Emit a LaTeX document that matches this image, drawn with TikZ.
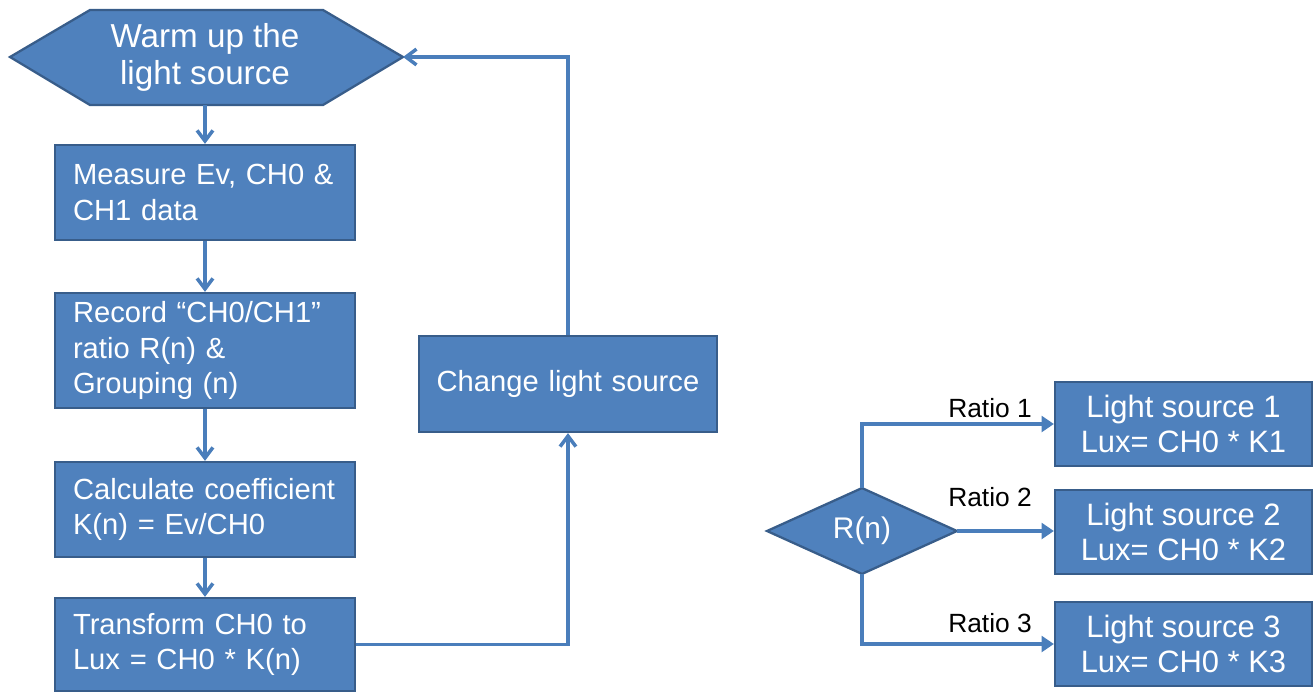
\documentclass[tikz,border=0pt]{standalone}
\usepackage{fontspec}
\setmainfont{Liberation Sans}
\usetikzlibrary{positioning}
\usetikzlibrary{calc}
\usetikzlibrary{shapes.geometric, arrows.meta}
\definecolor{boxblue}{HTML}{4F81BD}
\definecolor{boxedge}{HTML}{385D8A}
\definecolor{lineblue}{HTML}{4A7EBB}

\begin{document}
\begin{tikzpicture}[x=0.02cm, y=-0.02cm]
    \useasboundingbox (0,0) rectangle (1316,693);
    % styles for the boxes and the connectors
    \tikzstyle{proc} = [draw=boxedge, fill=boxblue, line width=1.3pt, rectangle, text width=5.5cm, inner xsep=0.25cm, inner ysep=0pt, align=left, text=white, font=\fontsize{16.6}{20}\selectfont]
    \tikzstyle{result} = [draw=boxedge, fill=boxblue, line width=1.3pt, rectangle, minimum width=5.14cm, minimum height=1.68cm, inner sep=0pt, align=center, text=white, font=\fontsize{17.6}{20}\selectfont]
    \tikzstyle{decide} = [draw=boxedge, fill=boxblue, line width=1.3pt, diamond, minimum width=3.8cm, minimum height=1.46cm, inner sep=0pt, outer sep=0pt, text=white, font=\fontsize{17}{20}\selectfont]
    \tikzstyle{ratiolbl} = [inner sep=0pt, text=black, font=\fontsize{15}{18}\selectfont]
    \tikzstyle{flow} = [draw=lineblue, line width=2pt, -{Straight Barb[length=6pt, width=9pt, line width=2pt]}]
    \tikzstyle{branch} = [draw=lineblue, line width=2pt, -{Triangle[length=7pt, width=9pt]}]

    % draw the hexagon of the first step, then its text on top
    \draw[draw=boxedge, fill=boxblue, line width=1.3pt] (10,57) -- (90,10) -- (323,10) -- (403,57) -- (323,105) -- (90,105) -- cycle;
    \node[text=white, align=center, minimum height=1.9cm, inner sep=0pt, font=\fontsize{18.9}{21.5}\selectfont] (warm) at (205,57.5) {Warm up the\\light source};
    \coordinate (warmE) at (403,57);

    % the steps of the left column (text starts a little in from the left edge)
    \node[proc, minimum height=1.9cm] (meas) at (205,192.5) {\hspace*{0.11cm}Measure Ev, CH0 \&\\\hspace*{0.11cm}CH1 data};
    \node[proc, minimum height=2.3cm] (rec) at (205,350.5) {\hspace*{0.11cm}Record “CH0/CH1”\\\hspace*{0.11cm}ratio R(n) \&\\\hspace*{0.11cm}Grouping (n)};
    \node[proc, minimum height=1.9cm] (calc) at (205,509.5) {\hspace*{0.11cm}Calculate coefficient\\\hspace*{0.11cm}K(n) = Ev/CH0};
    \node[proc, minimum height=1.86cm] (trans) at (205,644.5) {\hspace*{0.11cm}Transform CH0 to\\\hspace*{0.11cm}Lux = CH0 * K(n)};
    \node[proc, text width=5.46cm, align=center, minimum height=1.92cm] (change) at (568,384) {Change light source};

    % arrows of the left column
    \draw[flow] (warm.south) -- (meas.north);
    \draw[flow] (meas.south) -- (rec.north);
    \draw[flow] (rec.south) -- (calc.north);
    \draw[flow] (calc.south) -- (trans.north);
    \draw[flow] (trans.east) -| (change.south);
    \draw[flow] (change.north) |- (warmE);

    % the decision and the three light sources
    \node[decide] (rn) at (862,531) {R(n)};
    \node[result] (ls1) at (1183.5,424) {Light source 1\\Lux= CH0 * K1};
    \node[result] (ls2) at (1183.5,532) {Light source 2\\Lux= CH0 * K2};
    \node[result] (ls3) at (1183.5,644) {Light source 3\\Lux= CH0 * K3};

    \draw[branch] (rn.north) |- (ls1.west);
    \draw[branch] (rn.east) -- (rn.east -| ls2.west);
    \draw[branch] (rn.south) |- (ls3.west);

    % labels of the branches
    \node[ratiolbl] (rat1) at (990,408) {Ratio 1};
    \node[ratiolbl] (rat2) at (990,497) {Ratio 2};
    \node[ratiolbl] (rat3) at (990,623) {Ratio 3};

\end{tikzpicture}
\end{document}
